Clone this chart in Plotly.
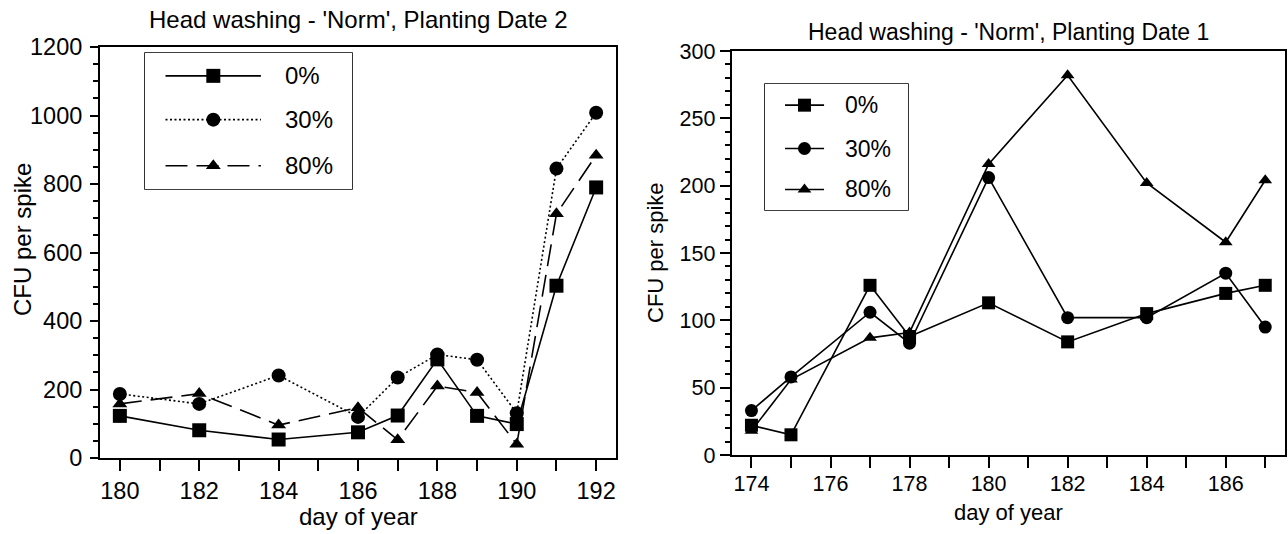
import plotly.graph_objects as go

# ---- data: Planting Date 2 (left panel) ----
days_pd2 = [180, 182, 184, 186, 187, 188, 189, 190, 191, 192]
pd2_0 = [123, 81, 54, 75, 124, 288, 123, 99, 503, 790]
pd2_30 = [187, 158, 241, 120, 235, 302, 287, 131, 845, 1008]
pd2_80 = [158, 188, 96, 147, 53, 210, 191, 40, 713, 884]

# ---- data: Planting Date 1 (right panel) ----
days_pd1 = [174, 175, 177, 178, 180, 182, 184, 186, 187]
pd1_0 = [22, 15, 126, 88, 113, 84, 105, 120, 126]
pd1_30 = [33, 58, 106, 83, 206, 102, 102, 135, 95]
pd1_80 = [18, 56, 87, 91, 216, 282, 202, 158, 204]

series_names = ["0%", "30%", "80%"]
symbols = ["square", "circle", "triangle-up"]
dash_pd2 = ["solid", "2px,2.5px", "22px,9px"]
dash_pd1 = ["solid", "solid", "solid"]
size_pd2 = [14, 14, 13]
size_pd1 = [13, 13, 12]

W, H = 1288, 534
FONT = "Liberation Sans, Arial, sans-serif"
BLACK = "#000000"
LW = 1.6


def px_x(p):
    return p / W


def px_y(p):
    return 1 - p / H


fig = go.Figure()

# data traces
for vals, name, sym, dash, size in zip([pd2_0, pd2_30, pd2_80], series_names,
                                       symbols, dash_pd2, size_pd2):
    fig.add_trace(go.Scatter(
        x=days_pd2, y=vals, name=name, mode="lines+markers",
        line=dict(color=BLACK, width=LW, dash=dash),
        marker=dict(symbol=sym, size=size, color=BLACK),
        xaxis="x", yaxis="y", showlegend=False))

for vals, name, sym, dash, size in zip([pd1_0, pd1_30, pd1_80], series_names,
                                       symbols, dash_pd1, size_pd1):
    fig.add_trace(go.Scatter(
        x=days_pd1, y=vals, name=name, mode="lines+markers",
        line=dict(color=BLACK, width=LW, dash=dash),
        marker=dict(symbol=sym, size=size, color=BLACK),
        xaxis="x2", yaxis="y2", showlegend=False))

# boxed key for each panel, drawn on its own unit axes
keys = [
    dict(xa="x3", ya="y3", rows=[0.832, 0.51, 0.171],
         line=(0.099, 0.56), mark=0.33, text=0.667, dashes=dash_pd2,
         sizes=size_pd2, fsize=24),
    dict(xa="x4", ya="y4", rows=[0.832, 0.488, 0.163],
         line=(0.14, 0.413), mark=0.276, text=0.545, dashes=dash_pd1,
         sizes=size_pd1, fsize=23),
]

annotations = []
shapes = []
for k in keys:
    for row, name, sym, dash, size in zip(k["rows"], series_names, symbols,
                                          k["dashes"], k["sizes"]):
        fig.add_trace(go.Scatter(
            x=[k["line"][0], k["line"][1]], y=[row, row], mode="lines",
            showlegend=False, hoverinfo="skip",
            line=dict(color=BLACK, width=LW, dash=dash),
            xaxis=k["xa"], yaxis=k["ya"]))
        fig.add_trace(go.Scatter(
            x=[k["mark"]], y=[row], mode="markers",
            showlegend=False, hoverinfo="skip",
            marker=dict(symbol=sym, size=size, color=BLACK),
            xaxis=k["xa"], yaxis=k["ya"]))
        annotations.append(dict(
            x=k["text"], y=row, xref=k["xa"], yref=k["ya"], text=name,
            showarrow=False, xanchor="left", yanchor="middle",
            font=dict(family=FONT, size=k["fsize"], color=BLACK)))
    shapes.append(dict(
        type="rect", xref=k["xa"] + " domain", yref=k["ya"] + " domain",
        x0=0, x1=1, y0=0, y1=1, layer="below",
        line=dict(color=BLACK, width=1.6), fillcolor="white"))

# panel titles and axis titles
panel_text = [
    dict(title="Head washing - 'Norm', Planting Date 2", tx=358, ty=20,
         tsize=24, ylab_x=22, ylab_y=240, xlab_x=358, xlab_y=516, lsize=24),
    dict(title="Head washing - 'Norm', Planting Date 1", tx=1008, ty=32,
         tsize=23, ylab_x=656, ylab_y=253, xlab_x=1008, xlab_y=512, lsize=22),
]
for p in panel_text:
    annotations.append(dict(
        x=px_x(p["tx"]), y=px_y(p["ty"]), xref="paper", yref="paper",
        text=p["title"], showarrow=False, xanchor="center", yanchor="middle",
        font=dict(family=FONT, size=p["tsize"], color=BLACK)))
    annotations.append(dict(
        x=px_x(p["ylab_x"]), y=px_y(p["ylab_y"]), xref="paper", yref="paper",
        text="CFU per spike", textangle=-90, showarrow=False,
        xanchor="center", yanchor="middle",
        font=dict(family=FONT, size=p["lsize"], color=BLACK)))
    annotations.append(dict(
        x=px_x(p["xlab_x"]), y=px_y(p["xlab_y"]), xref="paper", yref="paper",
        text="day of year", showarrow=False, xanchor="center",
        yanchor="middle", font=dict(family=FONT, size=p["lsize"], color=BLACK)))


def axis_common(tsize):
    return dict(showline=True, mirror=True, linecolor=BLACK, linewidth=2,
                showgrid=False, zeroline=False, ticks="outside",
                tickcolor=BLACK, tickwidth=1.6, automargin=False,
                tickfont=dict(family=FONT, size=tsize, color=BLACK))


unit_axis = dict(range=[0, 1], visible=False, fixedrange=True,
                 automargin=False)

fig.update_layout(
    width=W, height=H,
    margin=dict(l=0, r=0, t=0, b=0, pad=0, autoexpand=False),
    paper_bgcolor="white", plot_bgcolor="white",
    showlegend=False,
    xaxis=dict(domain=[px_x(100), px_x(616)], range=[179.5, 192.5],
               tick0=180, dtick=2, ticklen=11, anchor="y",
               ticklabelstandoff=0,
               minor=dict(dtick=1, tick0=180, ticks="outside", ticklen=11,
                          tickwidth=1.6, tickcolor=BLACK),
               **axis_common(23.5)),
    yaxis=dict(domain=[px_y(458), px_y(47)], range=[0, 1200],
               tick0=0, dtick=200, ticklen=8, anchor="x",
               ticklabelstandoff=3,
               minor=dict(dtick=50, tick0=0, ticks="outside", ticklen=5,
                          tickwidth=1.6, tickcolor=BLACK),
               **axis_common(23.5)),
    xaxis2=dict(domain=[px_x(731.7), px_x(1285)], range=[173.5, 187.5],
                tick0=174, dtick=2, ticklen=11, anchor="y2",
                ticklabelstandoff=-3,
                minor=dict(dtick=1, tick0=174, ticks="outside", ticklen=11,
                           tickwidth=1.6, tickcolor=BLACK),
                **axis_common(21.5)),
    yaxis2=dict(domain=[px_y(455), px_y(51)], range=[0, 300],
                tick0=0, dtick=50, ticklen=10, anchor="x2",
                minor=dict(dtick=10, tick0=0, ticks="outside", ticklen=5,
                           tickwidth=1.6, tickcolor=BLACK),
                **axis_common(21.5)),
    xaxis3=dict(domain=[px_x(145), px_x(352)], anchor="y3", **unit_axis),
    yaxis3=dict(domain=[px_y(189), px_y(53)], anchor="x3", **unit_axis),
    xaxis4=dict(domain=[px_x(765), px_x(908)], anchor="y4", **unit_axis),
    yaxis4=dict(domain=[px_y(210), px_y(84)], anchor="x4", **unit_axis),
    annotations=annotations,
    shapes=shapes,
)

fig.write_html("out.html")
